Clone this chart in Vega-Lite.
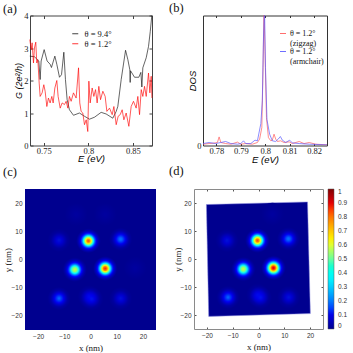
{
"$schema":"https://vega.github.io/schema/vega-lite/v6.json",
"autosize":{"type":"none"},
"padding":{"left":25,"top":15.5,"right":328,"bottom":337.5},
"background":"white",
"config":{"view":{"stroke":null},"axis":{"grid":false},"title":{"font":"Liberation Serif","fontSize":12.5,"fontWeight":"normal","anchor":"start","color":"#111","frame":"group"},"legend":{"labelFont":"Liberation Serif"}},
"datasets":{
"a":[
{"E":0.7343,"G":2.75,"s":"θ = 9.4°"},{"E":0.7395,"G":2.73,"s":"θ = 9.4°"},{"E":0.7444,"G":2.6,"s":"θ = 9.4°"},{"E":0.7459,"G":2.03,"s":"θ = 9.4°"},{"E":0.747,"G":2.6,"s":"θ = 9.4°"},{"E":0.7504,"G":2.95,"s":"θ = 9.4°"},{"E":0.7537,"G":2.6,"s":"θ = 9.4°"},{"E":0.7571,"G":2.5,"s":"θ = 9.4°"},{"E":0.7586,"G":2.4,"s":"θ = 9.4°"},{"E":0.7624,"G":2.75,"s":"θ = 9.4°"},{"E":0.7646,"G":2.5,"s":"θ = 9.4°"},{"E":0.7676,"G":2.1,"s":"θ = 9.4°"},{"E":0.7699,"G":2.18,"s":"θ = 9.4°"},{"E":0.7725,"G":2.87,"s":"θ = 9.4°"},{"E":0.7743,"G":2.03,"s":"θ = 9.4°"},{"E":0.7762,"G":1.41,"s":"θ = 9.4°"},{"E":0.7788,"G":1.1,"s":"θ = 9.4°"},{"E":0.7833,"G":0.93,"s":"θ = 9.4°"},{"E":0.79,"G":1.0,"s":"θ = 9.4°"},{"E":0.7957,"G":0.9,"s":"θ = 9.4°"},{"E":0.8013,"G":0.81,"s":"θ = 9.4°"},{"E":0.8069,"G":0.87,"s":"θ = 9.4°"},{"E":0.8144,"G":1.02,"s":"θ = 9.4°"},{"E":0.82,"G":0.97,"s":"θ = 9.4°"},{"E":0.8275,"G":0.84,"s":"θ = 9.4°"},{"E":0.8313,"G":1.05,"s":"θ = 9.4°"},{"E":0.8331,"G":1.2,"s":"θ = 9.4°"},{"E":0.8369,"G":2.03,"s":"θ = 9.4°"},{"E":0.8418,"G":2.93,"s":"θ = 9.4°"},{"E":0.8444,"G":2.64,"s":"θ = 9.4°"},{"E":0.8466,"G":2.33,"s":"θ = 9.4°"},{"E":0.847,"G":1.94,"s":"θ = 9.4°"},{"E":0.8474,"G":2.3,"s":"θ = 9.4°"},{"E":0.8519,"G":2.1,"s":"θ = 9.4°"},{"E":0.8567,"G":2.1,"s":"θ = 9.4°"},{"E":0.859,"G":2.25,"s":"θ = 9.4°"},{"E":0.8601,"G":1.8,"s":"θ = 9.4°"},{"E":0.8612,"G":2.39,"s":"θ = 9.4°"},{"E":0.865,"G":2.7,"s":"θ = 9.4°"},{"E":0.8676,"G":3.05,"s":"θ = 9.4°"},{"E":0.8695,"G":3.5,"s":"θ = 9.4°"},{"E":0.8713,"G":4.0,"s":"θ = 9.4°"},
{"E":0.7343,"G":3.26,"s":"θ = 1.2°"},{"E":0.7358,"G":2.95,"s":"θ = 1.2°"},{"E":0.7369,"G":3.16,"s":"θ = 1.2°"},{"E":0.7384,"G":2.54,"s":"θ = 1.2°"},{"E":0.7395,"G":3.0,"s":"θ = 1.2°"},{"E":0.741,"G":3.18,"s":"θ = 1.2°"},{"E":0.7421,"G":2.54,"s":"θ = 1.2°"},{"E":0.7433,"G":2.64,"s":"θ = 1.2°"},{"E":0.7448,"G":1.92,"s":"θ = 1.2°"},{"E":0.7459,"G":1.51,"s":"θ = 1.2°"},{"E":0.7481,"G":1.62,"s":"θ = 1.2°"},{"E":0.75,"G":1.87,"s":"θ = 1.2°"},{"E":0.7515,"G":1.67,"s":"θ = 1.2°"},{"E":0.7534,"G":1.2,"s":"θ = 1.2°"},{"E":0.7552,"G":1.46,"s":"θ = 1.2°"},{"E":0.7571,"G":1.31,"s":"θ = 1.2°"},{"E":0.759,"G":1.51,"s":"θ = 1.2°"},{"E":0.7605,"G":1.31,"s":"θ = 1.2°"},{"E":0.7624,"G":1.77,"s":"θ = 1.2°"},{"E":0.7646,"G":2.0,"s":"θ = 1.2°"},{"E":0.7661,"G":1.51,"s":"θ = 1.2°"},{"E":0.7684,"G":1.15,"s":"θ = 1.2°"},{"E":0.7706,"G":1.31,"s":"θ = 1.2°"},{"E":0.7732,"G":1.26,"s":"θ = 1.2°"},{"E":0.7751,"G":1.36,"s":"θ = 1.2°"},{"E":0.777,"G":1.15,"s":"θ = 1.2°"},{"E":0.7788,"G":1.51,"s":"θ = 1.2°"},{"E":0.7807,"G":1.36,"s":"θ = 1.2°"},{"E":0.7833,"G":1.62,"s":"θ = 1.2°"},{"E":0.7863,"G":1.46,"s":"θ = 1.2°"},{"E":0.789,"G":2.39,"s":"θ = 1.2°"},{"E":0.7904,"G":1.31,"s":"θ = 1.2°"},{"E":0.7919,"G":1.05,"s":"θ = 1.2°"},{"E":0.7938,"G":1.0,"s":"θ = 1.2°"},{"E":0.7957,"G":0.64,"s":"θ = 1.2°"},{"E":0.7976,"G":0.79,"s":"θ = 1.2°"},{"E":0.7994,"G":0.43,"s":"θ = 1.2°"},{"E":0.8006,"G":1.98,"s":"θ = 1.2°"},{"E":0.8021,"G":1.31,"s":"θ = 1.2°"},{"E":0.8043,"G":1.77,"s":"θ = 1.2°"},{"E":0.8062,"G":1.51,"s":"θ = 1.2°"},{"E":0.8081,"G":1.72,"s":"θ = 1.2°"},{"E":0.8099,"G":1.31,"s":"θ = 1.2°"},{"E":0.8118,"G":1.82,"s":"θ = 1.2°"},{"E":0.8137,"G":1.41,"s":"θ = 1.2°"},{"E":0.8163,"G":1.67,"s":"θ = 1.2°"},{"E":0.8189,"G":1.51,"s":"θ = 1.2°"},{"E":0.8208,"G":1.05,"s":"θ = 1.2°"},{"E":0.8238,"G":1.15,"s":"θ = 1.2°"},{"E":0.8268,"G":0.95,"s":"θ = 1.2°"},{"E":0.8287,"G":1.2,"s":"θ = 1.2°"},{"E":0.8313,"G":0.64,"s":"θ = 1.2°"},{"E":0.8335,"G":0.9,"s":"θ = 1.2°"},{"E":0.8358,"G":0.95,"s":"θ = 1.2°"},{"E":0.838,"G":1.1,"s":"θ = 1.2°"},{"E":0.8399,"G":0.79,"s":"θ = 1.2°"},{"E":0.8425,"G":1.0,"s":"θ = 1.2°"},{"E":0.8455,"G":0.59,"s":"θ = 1.2°"},{"E":0.8481,"G":1.2,"s":"θ = 1.2°"},{"E":0.8507,"G":1.36,"s":"θ = 1.2°"},{"E":0.8537,"G":1.15,"s":"θ = 1.2°"},{"E":0.8556,"G":1.51,"s":"θ = 1.2°"},{"E":0.8575,"G":0.95,"s":"θ = 1.2°"},{"E":0.8594,"G":1.72,"s":"θ = 1.2°"},{"E":0.8612,"G":1.51,"s":"θ = 1.2°"},{"E":0.8631,"G":1.82,"s":"θ = 1.2°"},{"E":0.865,"G":1.51,"s":"θ = 1.2°"},{"E":0.8676,"G":2.23,"s":"θ = 1.2°"},{"E":0.8691,"G":1.62,"s":"θ = 1.2°"},{"E":0.8706,"G":2.13,"s":"θ = 1.2°"},{"E":0.8714,"G":1.46,"s":"θ = 1.2°"}
],
"b":[
{"E":0.7745,"D":0.01,"s":"z"},{"E":0.777,"D":0.015,"s":"z"},{"E":0.779,"D":0.018,"s":"z"},{"E":0.7804,"D":0.023,"s":"z"},{"E":0.7811,"D":0.066,"s":"z"},{"E":0.7818,"D":0.023,"s":"z"},{"E":0.7838,"D":0.015,"s":"z"},{"E":0.7859,"D":0.01,"s":"z"},{"E":0.7886,"D":0.026,"s":"z"},{"E":0.79,"D":0.01,"s":"z"},{"E":0.792,"D":0.015,"s":"z"},{"E":0.7947,"D":0.01,"s":"z"},{"E":0.7968,"D":0.023,"s":"z"},{"E":0.7977,"D":0.049,"s":"z"},{"E":0.7986,"D":0.138,"s":"z"},{"E":0.7991,"D":0.6,"s":"z"},{"E":0.7995,"D":1.06,"s":"z"},{"E":0.7999,"D":0.726,"s":"z"},{"E":0.8005,"D":0.215,"s":"z"},{"E":0.8013,"D":0.061,"s":"z"},{"E":0.8023,"D":0.036,"s":"z"},{"E":0.8029,"D":0.041,"s":"z"},{"E":0.8036,"D":0.087,"s":"z"},{"E":0.8043,"D":0.049,"s":"z"},{"E":0.805,"D":0.031,"s":"z"},{"E":0.8063,"D":0.036,"s":"z"},{"E":0.8077,"D":0.023,"s":"z"},{"E":0.8098,"D":0.028,"s":"z"},{"E":0.8111,"D":0.015,"s":"z"},{"E":0.8139,"D":0.031,"s":"z"},{"E":0.8159,"D":0.015,"s":"z"},{"E":0.818,"D":0.023,"s":"z"},{"E":0.8207,"D":0.01,"s":"z"},{"E":0.8253,"D":0.005,"s":"z"},
{"E":0.7745,"D":0.015,"s":"a"},{"E":0.777,"D":0.023,"s":"a"},{"E":0.7797,"D":0.015,"s":"a"},{"E":0.7818,"D":0.023,"s":"a"},{"E":0.7838,"D":0.031,"s":"a"},{"E":0.7859,"D":0.015,"s":"a"},{"E":0.7886,"D":0.01,"s":"a"},{"E":0.79,"D":0.015,"s":"a"},{"E":0.7911,"D":0.036,"s":"a"},{"E":0.792,"D":0.015,"s":"a"},{"E":0.7941,"D":0.015,"s":"a"},{"E":0.7958,"D":0.041,"s":"a"},{"E":0.7968,"D":0.036,"s":"a"},{"E":0.7982,"D":0.169,"s":"a"},{"E":0.7988,"D":0.343,"s":"a"},{"E":0.7993,"D":0.85,"s":"a"},{"E":0.7997,"D":1.06,"s":"a"},{"E":0.8001,"D":0.6,"s":"a"},{"E":0.8007,"D":0.2,"s":"a"},{"E":0.8018,"D":0.087,"s":"a"},{"E":0.8029,"D":0.036,"s":"a"},{"E":0.8043,"D":0.031,"s":"a"},{"E":0.8053,"D":0.049,"s":"a"},{"E":0.8062,"D":0.069,"s":"a"},{"E":0.807,"D":0.041,"s":"a"},{"E":0.8084,"D":0.023,"s":"a"},{"E":0.81,"D":0.041,"s":"a"},{"E":0.8111,"D":0.02,"s":"a"},{"E":0.8139,"D":0.015,"s":"a"},{"E":0.818,"D":0.01,"s":"a"},{"E":0.8253,"D":0.005,"s":"a"}
],
"c":[
{"x":-0.8,"y":6.6,"p":0.8},{"x":5.6,"y":-3.2,"p":0.85},{"x":-6,"y":-3.6,"p":0.58},{"x":11.5,"y":7.2,"p":0.27},{"x":-12,"y":6.8,"p":0.17},{"x":-12,"y":-13.8,"p":0.25},{"x":-0.5,"y":-13.2,"p":0.17},{"x":0.5,"y":-14,"p":0.17},{"x":11.5,"y":-13.8,"p":0.17},{"x":5.6,"y":16,"p":0.05},{"x":-5.5,"y":16,"p":0.05},{"x":17,"y":-3,"p":0.05}
],
"d":[
{"x":-0.4,"y":6.6,"p":0.8},{"x":5.8,"y":-3.2,"p":0.9},{"x":-5.9,"y":-3.6,"p":0.58},{"x":11.6,"y":7.2,"p":0.27},{"x":-12.2,"y":6.6,"p":0.17},{"x":-11.8,"y":-13.7,"p":0.25},{"x":-0.3,"y":-12.9,"p":0.17},{"x":0.8,"y":-13.8,"p":0.17},{"x":11.7,"y":-13.7,"p":0.17},{"x":5.4,"y":16,"p":0.05}
],
"sq":[{"i":1,"x":-20.2,"y":19.45},{"i":2,"x":19.0,"y":20.4},{"i":3,"x":20.1,"y":-19.5},{"i":4,"x":-19.3,"y":-20.5},{"i":5,"x":-20.2,"y":19.45}]
},
"columns":2,"bounds":"flush","spacing":{"row":43.5,"column":38},
"concat":[
{"width":131,"height":130,"title":{"text":"(a)","dx":-22,"offset":-4},"data":{"name":"a"},
"layer":[
{"mark":{"type":"line","strokeWidth":0.65,"clip":true},"encoding":{
"x":{"field":"E","type":"quantitative","scale":{"domain":[0.7345,0.8715],"range":[5,127],"nice":false,"zero":false},"axis":{"orient":"bottom","values":[0.75,0.8,0.85],"format":".2~f","title":"E (eV)","titleFont":"Liberation Sans","titleFontStyle":"italic","titleFontWeight":"normal","titleFontSize":9.5,"titlePadding":-2,"labelFont":"Liberation Serif","labelFontSize":8.5,"labelColor":"#222","tickSize":-3,"tickColor":"#444","domainColor":"#444","labelPadding":4,"labelFlush":false}},
"y":{"field":"G","type":"quantitative","scale":{"domain":[0,4],"nice":false},"axis":{"orient":"left","offset":-5,"values":[0,1,2,3,4],"title":"G (2e²/h)","titleFont":"Liberation Sans","titleFontStyle":"italic","titleFontWeight":"normal","titleFontSize":9,"titlePadding":0,"labelFont":"Liberation Serif","labelFontSize":8.5,"labelColor":"#222","tickSize":-3,"tickColor":"#444","domainColor":"#444","labelPadding":5}},
"color":{"field":"s","type":"nominal","scale":{"domain":["θ = 9.4°","θ = 1.2°"],"range":["#111111","#ff0000"]},"legend":{"orient":"none","legendX":46,"legendY":14,"title":null,"symbolType":"stroke","symbolSize":36,"symbolStrokeWidth":0.8,"labelFontSize":8.5,"labelColor":"#111","rowPadding":1,"labelOffset":5,"padding":0}}
}},
{"mark":{"type":"line","strokeOpacity":0},"encoding":{
"x":{"field":"E","type":"quantitative","scale":{"domain":[0.7345,0.8715],"range":[5,127],"nice":false,"zero":false},"axis":{"orient":"top","values":[0.75,0.8,0.85],"labels":false,"title":null,"tickSize":-3,"tickColor":"#444","domainColor":"#444"}},
"y":{"field":"G","type":"quantitative","scale":{"domain":[0,4],"nice":false},"axis":{"orient":"right","offset":-4,"values":[0,1,2,3,4],"labels":false,"title":null,"tickSize":-3,"tickColor":"#444","domainColor":"#444"}},
"detail":{"field":"s"}
}}
],"resolve":{"axis":{"x":"independent","y":"independent"}}},
{"width":133,"height":130,"title":{"text":"(b)","dx":-25,"offset":-7},"data":{"name":"b"},
"layer":[
{"mark":{"type":"line","strokeWidth":0.8,"clip":true,"opacity":0.85},"encoding":{
"x":{"field":"E","type":"quantitative","scale":{"domain":[0.7745,0.8253],"range":[9,133],"nice":false,"zero":false},"axis":{"orient":"bottom","values":[0.78,0.79,0.8,0.81,0.82],"format":".2~f","title":"E (eV)","titleFont":"Liberation Sans","titleFontStyle":"italic","titleFontWeight":"normal","titleFontSize":9.5,"titlePadding":-1,"labelFont":"Liberation Serif","labelFontSize":8.5,"labelColor":"#222","tickSize":-2,"tickColor":"#333","domainColor":"#333","labelPadding":3,"labelFlush":false}},
"y":{"field":"D","type":"quantitative","scale":{"domain":[0,1],"nice":false},"axis":{"orient":"left","offset":-9,"values":[0],"title":"DOS","titleFont":"Liberation Sans","titleFontStyle":"italic","titleFontWeight":"normal","titleFontSize":9.5,"titlePadding":-1,"labelFont":"Liberation Serif","labelFontSize":8.5,"labelColor":"#222","tickSize":0,"domainColor":"#333","labelPadding":2}},
"color":{"field":"s","type":"nominal","scale":{"domain":["z","a"],"range":["#ff5555","#5555ff"]},"legend":{"orient":"none","legendX":85,"legendY":14,"title":null,"symbolType":"stroke","symbolSize":36,"symbolStrokeWidth":1,"labelFontSize":8,"labelColor":"#111","labelExpr":"datum.label=='z'?['θ = 1.2°','(zigzag)']:['θ = 1.2°','(armchair)']","rowPadding":0,"labelOffset":3,"padding":0}}
}},
{"mark":{"type":"line","strokeOpacity":0},"encoding":{
"x":{"field":"E","type":"quantitative","scale":{"domain":[0.7745,0.8253],"range":[9,133],"nice":false,"zero":false},"axis":{"orient":"top","values":[0.78,0.79,0.8,0.81,0.82],"labels":false,"title":null,"tickSize":-2,"tickColor":"#333","domainColor":"#333"}},
"y":{"field":"D","type":"quantitative","scale":{"domain":[0,1],"nice":false},"axis":{"orient":"right","values":[],"labels":false,"title":null,"ticks":false,"domainColor":"#333"}},
"detail":{"field":"s"}
}}
],"resolve":{"axis":{"x":"independent","y":"independent"}}},
{"width":131,"height":141,"title":{"text":"(c)","dx":-22,"offset":11},"data":{"name":"c"},"view":{"fill":"#00008f"},
"encoding":{
"x":{"field":"x","type":"quantitative","scale":{"domain":[-25,25],"nice":false},"axis":{"orient":"bottom","values":[-20,-10,0,10,20],"title":"x (nm)","titleFont":"Liberation Serif","titleFontWeight":"normal","titleFontSize":9,"titleColor":"#222","titlePadding":4,"labelFont":"Liberation Sans","labelFontSize":6.5,"labelColor":"#333","ticks":false,"domain":false,"labelPadding":3,"labelFlush":false}},
"y":{"field":"y","type":"quantitative","scale":{"domain":[-25,25],"nice":false},"axis":{"orient":"left","values":[-20,-10,0,10,20],"title":"y (nm)","titleFont":"Liberation Serif","titleFontWeight":"normal","titleFontSize":9,"titleColor":"#222","titlePadding":-2,"labelFont":"Liberation Sans","labelFontSize":6.5,"labelColor":"#333","ticks":false,"domain":false,"labelPadding":3}}
},
"layer":[
{"transform":[{"filter":"datum.p==0.8"}],"mark":{"type":"point","filled":true,"opacity":1,"size":590,"fill":{"gradient":"radial","x1":0.5,"y1":0.5,"x2":0.5,"y2":0.5,"r1":0,"r2":0.5,"stops":[{"offset":0,"color":"#ff4d00"},{"offset":0.119,"color":"#ff8000"},{"offset":0.232,"color":"#ffff00"},{"offset":0.321,"color":"#80ff80"},{"offset":0.407,"color":"#00ffff"},{"offset":0.505,"color":"#0080ff"},{"offset":0.638,"color":"#0000ff"},{"offset":0.753,"color":"#0000c5"},{"offset":0.9,"color":"#0000a1"},{"offset":1,"color":"#00008f"}]}}},
{"transform":[{"filter":"datum.p==0.85"}],"mark":{"type":"point","filled":true,"opacity":1,"size":590,"fill":{"gradient":"radial","x1":0.5,"y1":0.5,"x2":0.5,"y2":0.5,"r1":0,"r2":0.5,"stops":[{"offset":0,"color":"#ff1a00"},{"offset":0.166,"color":"#ff8000"},{"offset":0.26,"color":"#ffff00"},{"offset":0.341,"color":"#80ff80"},{"offset":0.423,"color":"#00ffff"},{"offset":0.518,"color":"#0080ff"},{"offset":0.648,"color":"#0000ff"},{"offset":0.762,"color":"#0000c5"},{"offset":0.906,"color":"#0000a1"},{"offset":1,"color":"#00008f"}]}}},
{"transform":[{"filter":"datum.p==0.58"}],"mark":{"type":"point","filled":true,"opacity":1,"size":590,"fill":{"gradient":"radial","x1":0.5,"y1":0.5,"x2":0.5,"y2":0.5,"r1":0,"r2":0.5,"stops":[{"offset":0,"color":"#d1ff2e"},{"offset":0.18,"color":"#80ff80"},{"offset":0.309,"color":"#00ffff"},{"offset":0.429,"color":"#0080ff"},{"offset":0.58,"color":"#0000ff"},{"offset":0.705,"color":"#0000c5"},{"offset":0.859,"color":"#0000a1"},{"offset":1,"color":"#00008f"}]}}},
{"transform":[{"filter":"datum.p==0.27"}],"mark":{"type":"point","filled":true,"opacity":1,"size":531,"fill":{"gradient":"radial","x1":0.5,"y1":0.5,"x2":0.5,"y2":0.5,"r1":0,"r2":0.5,"stops":[{"offset":0,"color":"#0078ff"},{"offset":0.13,"color":"#0060ff"},{"offset":0.41,"color":"#0000f0"},{"offset":0.574,"color":"#0000c5"},{"offset":0.755,"color":"#0000a1"},{"offset":1,"color":"#00008f"}]}}},
{"transform":[{"filter":"datum.p==0.25"}],"mark":{"type":"point","filled":true,"opacity":1,"size":531,"fill":{"gradient":"radial","x1":0.5,"y1":0.5,"x2":0.5,"y2":0.5,"r1":0,"r2":0.5,"stops":[{"offset":0,"color":"#0070ff"},{"offset":0.39,"color":"#0000f0"},{"offset":0.559,"color":"#0000c5"},{"offset":0.744,"color":"#0000a1"},{"offset":1,"color":"#00008f"}]}}},
{"transform":[{"filter":"datum.p==0.17"}],"mark":{"type":"point","filled":true,"opacity":1,"size":531,"fill":{"gradient":"radial","x1":0.5,"y1":0.5,"x2":0.5,"y2":0.5,"r1":0,"r2":0.5,"stops":[{"offset":0,"color":"rgba(0,30,255,0.65)"},{"offset":0.26,"color":"rgba(0,0,255,0.6)"},{"offset":0.477,"color":"rgba(0,0,255,0.35)"},{"offset":0.685,"color":"rgba(0,0,255,0.12)"},{"offset":1,"color":"rgba(0,0,255,0)"}]}}},
{"transform":[{"filter":"datum.p==0.05"}],"mark":{"type":"point","filled":true,"opacity":1,"size":531,"fill":{"gradient":"radial","x1":0.5,"y1":0.5,"x2":0.5,"y2":0.5,"r1":0,"r2":0.5,"stops":[{"offset":0,"color":"#0000a0"},{"offset":0.5,"color":"#000097"},{"offset":1,"color":"#00008f"}]}}}
]},
{"width":133,"height":140,"title":{"text":"(d)","dx":-25,"offset":11},
"encoding":{
"x":{"field":"x","type":"quantitative","scale":{"domain":[-25,25],"range":[0,129],"nice":false},"axis":null},
"y":{"field":"y","type":"quantitative","scale":{"domain":[-25,25],"nice":false},"axis":null}
},
"layer":[
{"data":{"name":"sq"},"mark":{"type":"line","fill":"#00008f","stroke":"#8f8fe0","strokeWidth":0.5},"encoding":{"order":{"field":"i","type":"quantitative"},
"x":{"field":"x","type":"quantitative","scale":{"domain":[-25,25],"range":[0,129],"nice":false},"axis":{"orient":"bottom","values":[-20,-10,0,10,20],"title":"x (nm)","titleFont":"Liberation Serif","titleFontWeight":"normal","titleFontSize":9,"titleColor":"#222","titlePadding":4,"labelFont":"Liberation Sans","labelFontSize":6.5,"labelColor":"#333","tickSize":-2,"tickColor":"#555","domainColor":"#8a8a8a","labelPadding":5,"labelFlush":false}},
"y":{"field":"y","type":"quantitative","scale":{"domain":[-25,25],"nice":false},"axis":{"orient":"left","values":[-20,-10,0,10,20],"title":"y (nm)","titleFont":"Liberation Serif","titleFontWeight":"normal","titleFontSize":9,"titleColor":"#222","titlePadding":-3,"labelFont":"Liberation Sans","labelFontSize":6.5,"labelColor":"#333","tickSize":-2,"tickColor":"#555","domainColor":"#8a8a8a","labelPadding":5}}
}},
{"data":{"name":"d"},"mark":{"type":"point","filled":true,"size":4,"opacity":0},"encoding":{
"x":{"field":"x","type":"quantitative","scale":{"domain":[-25,25],"range":[0,129],"nice":false},"axis":{"orient":"top","values":[-20,-10,0,10,20],"labels":false,"title":null,"tickSize":-2,"tickColor":"#555","domainColor":"#8a8a8a"}},
"y":{"field":"y","type":"quantitative","scale":{"domain":[-25,25],"nice":false},"axis":{"orient":"right","offset":-4,"values":[-20,-10,0,10,20],"labels":false,"title":null,"tickSize":-2,"tickColor":"#555","domainColor":"#8a8a8a"}},
"color":{"field":"p","type":"quantitative","scale":{"domain":[0,0.125,0.375,0.625,0.875,1],"range":["#00008f","#0000ff","#00ffff","#ffff00","#ff0000","#800000"]},"legend":{"orient":"none","legendX":134,"legendY":0,"title":null,"direction":"vertical","gradientLength":140,"gradientThickness":6,"gradientStrokeColor":"#555","gradientStrokeWidth":0.5,"values":[0,0.1,0.2,0.3,0.4,0.5,0.6,0.7,0.8,0.9,1],"format":"~g","labelFont":"Liberation Sans","labelFontSize":6.5,"labelColor":"#333","labelOffset":4,"labelOverlap":false,"padding":0}}
}},
{"data":{"name":"d"},"transform":[{"filter":"datum.p==0.8"}],"mark":{"type":"point","filled":true,"opacity":1,"size":590,"fill":{"gradient":"radial","x1":0.5,"y1":0.5,"x2":0.5,"y2":0.5,"r1":0,"r2":0.5,"stops":[{"offset":0,"color":"#ff4d00"},{"offset":0.119,"color":"#ff8000"},{"offset":0.232,"color":"#ffff00"},{"offset":0.321,"color":"#80ff80"},{"offset":0.407,"color":"#00ffff"},{"offset":0.505,"color":"#0080ff"},{"offset":0.638,"color":"#0000ff"},{"offset":0.753,"color":"#0000c5"},{"offset":0.9,"color":"#0000a1"},{"offset":1,"color":"#00008f"}]}}},
{"data":{"name":"d"},"transform":[{"filter":"datum.p==0.9"}],"mark":{"type":"point","filled":true,"opacity":1,"size":590,"fill":{"gradient":"radial","x1":0.5,"y1":0.5,"x2":0.5,"y2":0.5,"r1":0,"r2":0.5,"stops":[{"offset":0,"color":"#e60000"},{"offset":0.079,"color":"#ff0000"},{"offset":0.2,"color":"#ff8000"},{"offset":0.283,"color":"#ffff00"},{"offset":0.359,"color":"#80ff80"},{"offset":0.438,"color":"#00ffff"},{"offset":0.53,"color":"#0080ff"},{"offset":0.658,"color":"#0000ff"},{"offset":0.77,"color":"#0000c5"},{"offset":0.913,"color":"#0000a1"},{"offset":1,"color":"#00008f"}]}}},
{"data":{"name":"d"},"transform":[{"filter":"datum.p==0.58"}],"mark":{"type":"point","filled":true,"opacity":1,"size":590,"fill":{"gradient":"radial","x1":0.5,"y1":0.5,"x2":0.5,"y2":0.5,"r1":0,"r2":0.5,"stops":[{"offset":0,"color":"#d1ff2e"},{"offset":0.18,"color":"#80ff80"},{"offset":0.309,"color":"#00ffff"},{"offset":0.429,"color":"#0080ff"},{"offset":0.58,"color":"#0000ff"},{"offset":0.705,"color":"#0000c5"},{"offset":0.859,"color":"#0000a1"},{"offset":1,"color":"#00008f"}]}}},
{"data":{"name":"d"},"transform":[{"filter":"datum.p==0.27"}],"mark":{"type":"point","filled":true,"opacity":1,"size":531,"fill":{"gradient":"radial","x1":0.5,"y1":0.5,"x2":0.5,"y2":0.5,"r1":0,"r2":0.5,"stops":[{"offset":0,"color":"#0078ff"},{"offset":0.13,"color":"#0060ff"},{"offset":0.41,"color":"#0000f0"},{"offset":0.574,"color":"#0000c5"},{"offset":0.755,"color":"#0000a1"},{"offset":1,"color":"#00008f"}]}}},
{"data":{"name":"d"},"transform":[{"filter":"datum.p==0.25"}],"mark":{"type":"point","filled":true,"opacity":1,"size":531,"fill":{"gradient":"radial","x1":0.5,"y1":0.5,"x2":0.5,"y2":0.5,"r1":0,"r2":0.5,"stops":[{"offset":0,"color":"#0070ff"},{"offset":0.39,"color":"#0000f0"},{"offset":0.559,"color":"#0000c5"},{"offset":0.744,"color":"#0000a1"},{"offset":1,"color":"#00008f"}]}}},
{"data":{"name":"d"},"transform":[{"filter":"datum.p==0.17"}],"mark":{"type":"point","filled":true,"opacity":1,"size":531,"fill":{"gradient":"radial","x1":0.5,"y1":0.5,"x2":0.5,"y2":0.5,"r1":0,"r2":0.5,"stops":[{"offset":0,"color":"rgba(0,30,255,0.65)"},{"offset":0.26,"color":"rgba(0,0,255,0.6)"},{"offset":0.477,"color":"rgba(0,0,255,0.35)"},{"offset":0.685,"color":"rgba(0,0,255,0.12)"},{"offset":1,"color":"rgba(0,0,255,0)"}]}}},
{"data":{"name":"d"},"transform":[{"filter":"datum.p==0.05"}],"mark":{"type":"point","filled":true,"opacity":1,"size":531,"fill":{"gradient":"radial","x1":0.5,"y1":0.5,"x2":0.5,"y2":0.5,"r1":0,"r2":0.5,"stops":[{"offset":0,"color":"#0000a0"},{"offset":0.5,"color":"#000097"},{"offset":1,"color":"#00008f"}]}}}
],"resolve":{"axis":{"x":"independent","y":"independent"}}}
]}
